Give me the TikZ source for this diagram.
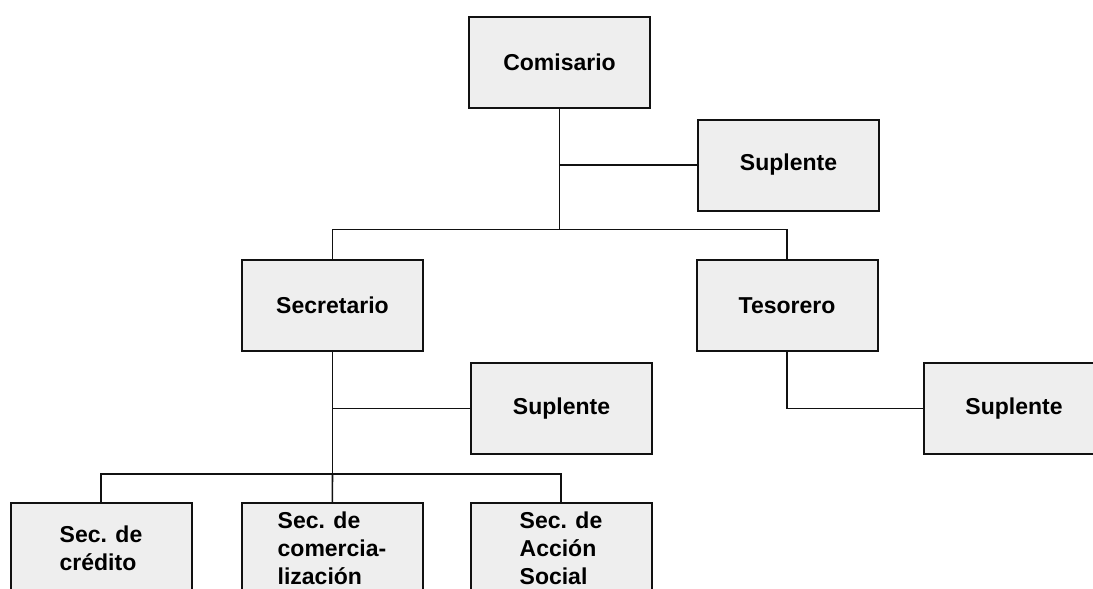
\documentclass[tikz,border=0pt]{standalone}
\usepackage{fontspec}
\setmainfont{Liberation Sans}
\usetikzlibrary{positioning,calc}
\definecolor{Ink}{HTML}{111111}
\definecolor{Paper}{HTML}{EEEEEE}

\begin{document}
\begin{tikzpicture}[
    x=0.5pt, y=-0.5pt,
    box/.style={draw=Ink, line width=1pt, fill=Paper, minimum width=90.5pt, minimum height=45.5pt, inner sep=2pt, align=center, font=\fontsize{11.5}{14}\selectfont\bfseries},
    sub/.style={box, align=left},
    link/.style={draw=Ink, line width=0.8pt}
  ]
    \useasboundingbox (0,0) rectangle (1093,589);

    % top of the chart
    \node[box] (com) at (559.5,62) {Comisario};
    \node[box, below right=5pt and 23pt of com] (sup1) {Suplente};

    % second row
    \node[box] (sec) at (332.5,305.5) {Secretario};
    \node[box] (tes) at (787,305.5) {Tesorero};
    \node[box, below right=5pt and 23pt of sec] (sup2) {Suplente};
    \node[box, below right=5pt and 22pt of tes] (sup3) {Suplente};

    % secretarias
    \node[sub] (c2) at (332,548.5) {Sec. de\\comercia-\\lización};
    \node[sub, left=24pt of c2] (c1) {Sec. de\\crédito};
    \node[sub, right=23pt of c2] (c3) {Sec. de\\Acción\\Social};

    \coordinate (bus1) at ($(com.south)+(0,121)$);
    \coordinate (bus2) at ($(sec.south)+(0,122)$);

    \draw[link] (com.south) -- (bus1);
    \draw[link] (sup1) -| (com.south);
    \draw[link] (sec) |- (bus1) -| (tes);
    \draw[link] (tes) |- (sup3);
    \draw[link] (sec) -- (bus2);
    \draw[link] (sup2) -| (sec.south);
    \draw[link] (c1) |- (bus2) -| (c3);
    \draw[link] (bus2) -- (c2);
  \end{tikzpicture}
\end{document}
